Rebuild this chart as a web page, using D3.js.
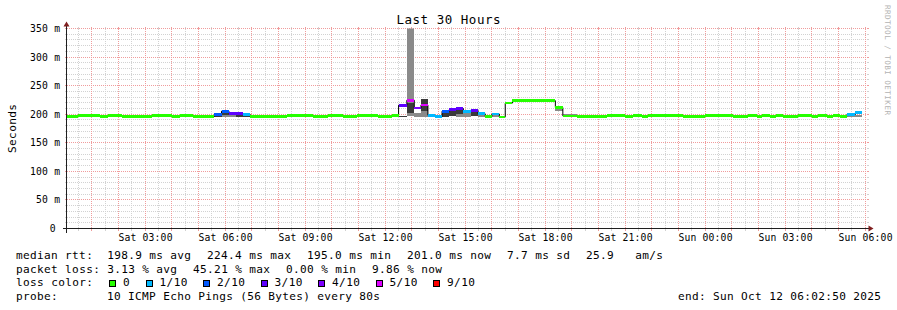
<!DOCTYPE html>
<html><head><meta charset="utf-8"><title>Last 30 Hours</title>
<script src="https://cdn.jsdelivr.net/npm/d3@7/dist/d3.min.js"></script>
<style>
html,body{margin:0;padding:0;background:#fff;}
svg{display:block}
text{font-family:"DejaVu Sans Mono",monospace;white-space:pre;fill:#000}
</style></head><body>
<svg id="chart" width="897" height="310" xmlns="http://www.w3.org/2000/svg"></svg>
<script>
// ---------------- data ----------------
// step start, in hours since Sat 11 Oct 2025 00:00
const segStartHour = [0.05,0.49,1.31,1.61,2.14,3.26,4.01,4.31,4.80,5.59,
  5.86,6.14,6.40,6.66,6.94,8.33,9.30,9.86,10.43,10.95,
  11.74,12.26,12.50,12.81,13.09,13.34,13.60,13.88,14.13,14.40,
  14.66,14.93,15.21,15.48,15.75,16.00,16.28,16.50,16.77,18.38,
  18.66,19.20,20.33,21.00,21.30,21.64,21.86,23.18,24.00,25.05,
  25.61,25.95,26.14,26.44,26.66,26.93,27.49,28.01,28.24,28.58,
  28.80,29.06,29.31,29.63];
const dataEndHour = 29.88;
// median rtt (ms)
const medianMs = [196.3,197.4,196.3,197.4,196.3,197.4,196.3,197.4,196.3,199.5,
  205.3,201.8,201.8,199.5,196.3,197.4,196.3,197.4,196.3,197.4,
  196.3,197.4,215.8,224.5,211.0,216.0,198.3,195.7,205.3,208.0,
  210.0,205.3,207.0,200.7,196.2,200.4,195.3,219.5,223.7,211.7,
  197.0,196.3,197.4,196.3,197.4,196.3,197.4,196.3,197.4,196.3,
  197.4,196.3,197.4,196.3,197.4,196.3,197.4,196.3,197.4,196.3,
  197.4,196.3,199.5,202.5];
// loss class index (0 = 0/10, 1 = 1/10, ... 6 = 9/10)
const lossIndex = [0,0,0,0,0,0,0,0,0,2,
  2,3,3,1,0,0,0,0,0,0,
  0,0,3,5,4,5,1,1,2,3,
  3,1,3,1,0,1,0,0,0,0,
  0,0,0,0,0,0,0,0,0,0,
  0,0,0,0,0,0,0,0,0,0,
  0,0,1,1];
// smoke (ping spread): segment, band (0 outer, 1 inner), low ms, high ms
const smokeSeg  = [9,10,10,11,12,13,22,23,23,24,25,25,26,28,29,30,30,31,32,33,35,39,40,62,63];
const smokeBand = [1,0,1,0,1,1,1,0,1,0,0,1,0,1,1,0,1,0,1,0,0,0,0,0,0];
const smokeLoMs = [195,196,198,196,195.5,195.5,195,197,202,196,196,206,195.5,196,197,196,200,196,197,196,196,206,198,194.5,194.5];
const smokeHiMs = [198.5,204,204,199,199,198.5,197,400,220,203,206,227,197.5,203,206,200,208,203.5,205,199,198.5,210,200,198,198];

const lossLabels = ["0","1/10","2/10","3/10","4/10","5/10","9/10"];
const lossColors = ["#26ff00","#00b8ff","#0059ff","#5e00ff","#7e00ff","#dd00ff","#ff0000"];
const yTickValues = [0,50,100,150,200,250,300,350];
const yTickLabels = ["0","50 m","100 m","150 m","200 m","250 m","300 m","350 m"];
const titleText = "Last 30 Hours";
const yAxisTitle = "Seconds";
const watermark = "RRDTOOL / TOBI OETIKER";
const rttItems  = ["median rtt:  198.9 ms avg","224.4 ms max","195.0 ms min","201.0 ms now","7.7 ms sd","25.9   am/s"];
const lossItems = ["packet loss: 3.13 % avg","45.21 % max","0.00 % min","9.86 % now"];
const lossColorLabel = "loss color:";
const probeText = "probe:       10 ICMP Echo Pings (56 Bytes) every 80s";
const endText = "end: Sun Oct 12 06:02:50 2025";

// ---------------- layout ----------------
const svg = d3.select("#chart");
const X0 = 66.5, X1 = 866.5, Y0 = 228.5, Y1 = 28.5;
const base = Date.UTC(2025, 9, 11, 0, 0, 0);
const toDate = h => new Date(base + h * 3600e3);
const tStart = new Date(Date.UTC(2025, 9, 11, 0, 2, 50));
const tEnd = new Date(Date.UTC(2025, 9, 12, 6, 2, 50));
const x = d3.scaleUtc().domain([tStart, tEnd]).range([X0, X1]);
const y = d3.scaleLinear().domain([0, 350]).range([Y0, Y1]);

const GRID = "#d2d2d2", MGRID = "#f09c9c", AXIS = "#1f1f1f", ARROW = "#801f1f";
const LEG = 11.1, LEGADV = 7, AX = 9.72, AXADV = 6;

function mono(g, str, px, py, size, adv, anchor) {
  return g.append("text").attr("x", px).attr("y", py)
    .attr("font-size", size).attr("text-anchor", anchor || "start")
    .attr("textLength", str.length * adv).attr("lengthAdjust", "spacing")
    .text(str);
}

// grid
const gGrid = svg.append("g").attr("shape-rendering", "crispEdges").attr("fill", "none");
const fy = v => Math.floor(y(v)) + 0.5;
const fx = t => Math.floor(x(t)) + 0.5;
const minorH = d3.range(10, 350, 10).filter(v => v % 50 !== 0);
const majorH = d3.range(50, 351, 50);
const minorV = x.ticks(d3.utcMinute.every(30)).filter(t => t.getUTCMinutes() !== 0);
const majorV = x.ticks(d3.utcHour.every(1));

function hLine(v, col) {
  const py = fy(v);
  gGrid.append("line").attr("x1", X0 - 2).attr("x2", X1 + 2).attr("y1", py).attr("y2", py)
    .attr("stroke", col).attr("stroke-dasharray", "1,1");
  gGrid.append("line").attr("x1", X0 - 2).attr("x2", X0).attr("y1", py).attr("y2", py).attr("stroke", col);
  gGrid.append("line").attr("x1", X1).attr("x2", X1 + 2).attr("y1", py).attr("y2", py).attr("stroke", col);
}
function vLine(t, col) {
  const px = fx(t);
  gGrid.append("line").attr("x1", px).attr("x2", px).attr("y1", Y1 - 2).attr("y2", Y0 + 2)
    .attr("stroke", col).attr("stroke-dasharray", "1,1");
  gGrid.append("line").attr("x1", px).attr("x2", px).attr("y1", Y1 - 2).attr("y2", Y1).attr("stroke", col);
  gGrid.append("line").attr("x1", px).attr("x2", px).attr("y1", Y0).attr("y2", Y0 + 2).attr("stroke", col);
}
minorH.forEach(v => hLine(v, GRID));
minorV.forEach(t => vLine(t, GRID));
majorH.forEach(v => hLine(v, MGRID));
majorV.forEach(t => vLine(t, MGRID));

// data
svg.append("clipPath").attr("id", "plotclip").append("rect")
  .attr("x", X0).attr("y", Y1).attr("width", X1 - X0).attr("height", Y0 - Y1);
const gData = svg.append("g").attr("clip-path", "url(#plotclip)");
const segEnd = i => (i + 1 < segStartHour.length ? segStartHour[i + 1] : dataEndHour);
const smokeColors = ["#8a8a8a", "#3a3a3a"];

gData.append("g").attr("shape-rendering", "crispEdges").selectAll("rect")
  .data(smokeSeg.map((s, k) => ({ s, b: smokeBand[k], lo: smokeLoMs[k], hi: smokeHiMs[k] }))
    .sort((a, b) => a.b - b.b))
  .join("rect")
  .attr("x", d => x(toDate(segStartHour[d.s])))
  .attr("width", d => x(toDate(segEnd(d.s))) - x(toDate(segStartHour[d.s])))
  .attr("y", d => y(d.hi))
  .attr("height", d => y(d.lo) - y(d.hi))
  .attr("fill", d => smokeColors[d.b]);

const linePts = segStartHour.map((h, i) => [x(toDate(h)), y(medianMs[i])]);
linePts.push([x(toDate(dataEndHour)), y(medianMs[medianMs.length - 1])]);
gData.append("path").attr("d", d3.line().curve(d3.curveStepAfter)(linePts))
  .attr("fill", "none").attr("stroke", "#000").attr("stroke-width", 1);

gData.append("g").attr("shape-rendering", "crispEdges").selectAll("rect")
  .data(segStartHour.map((h, i) => i)).join("rect")
  .attr("x", i => x(toDate(segStartHour[i])))
  .attr("width", i => x(toDate(segEnd(i))) - x(toDate(segStartHour[i])))
  .attr("y", i => y(medianMs[i]) - 1.4)
  .attr("height", 2.8)
  .attr("fill", i => lossColors[lossIndex[i]]);

// axes
const gAx = svg.append("g");
gAx.append("line").attr("x1", X0 - 4).attr("x2", X1 + 4).attr("y1", Y0).attr("y2", Y0)
  .attr("stroke", AXIS).attr("shape-rendering", "crispEdges");
gAx.append("line").attr("x1", X0).attr("x2", X0).attr("y1", Y0 + 4).attr("y2", Y1 - 4)
  .attr("stroke", AXIS).attr("shape-rendering", "crispEdges");
gAx.append("path").attr("d", `M${X1 + 2},${Y0 - 3}L${X1 + 2},${Y0 + 3}L${X1 + 7},${Y0}Z`).attr("fill", ARROW);
gAx.append("path").attr("d", `M${X0 - 3},${Y1 - 2}L${X0 + 3},${Y1 - 2}L${X0},${Y1 - 7}Z`).attr("fill", ARROW);

// y labels
yTickValues.forEach((v, i) => {
  const lab = yTickLabels[i];
  const endX = lab === "0" ? 55.6 : 60;
  mono(gAx, lab, endX, fy(v) + 3.6, AX, AXADV, "end");
});
// x labels
const fmt = d3.utcFormat("%a %H:%M");
x.ticks(d3.utcHour.every(3)).forEach(t => {
  mono(gAx, fmt(t), fx(t), 240.7, AX, AXADV, "middle");
});

// title, y-title, watermark
mono(svg, titleText, 448.5, 24, 12.5, 8, "middle");
svg.append("text").attr("transform", "translate(15.5,128.5) rotate(-90)")
  .attr("font-size", LEG).attr("text-anchor", "middle")
  .attr("textLength", yAxisTitle.length * LEGADV).attr("lengthAdjust", "spacing").text(yAxisTitle);
svg.append("text").attr("transform", "translate(884.6,60) rotate(90)")
  .attr("font-size", 7.64).attr("text-anchor", "middle").style("fill", "#b3b3b3")
  .attr("textLength", watermark.length * 5).attr("lengthAdjust", "spacing").text(watermark);

// legend
const gLeg = svg.append("g");
const L0 = 16, GAP = 16;
const rows = [259, 272.7, 286.4, 300.1];
let lx = L0;
rttItems.forEach(s => { mono(gLeg, s, lx, rows[0], LEG, LEGADV); lx += s.length * LEGADV + GAP; });
lx = L0;
lossItems.forEach(s => { mono(gLeg, s, lx, rows[1], LEG, LEGADV); lx += s.length * LEGADV + GAP; });
mono(gLeg, lossColorLabel, L0, rows[2], LEG, LEGADV);
lx = L0 + lossColorLabel.length * LEGADV + GAP;
lossLabels.forEach((s, i) => {
  gLeg.append("rect").attr("x", Math.round(lx) + 0.5).attr("y", 280).attr("width", 6).attr("height", 6)
    .attr("fill", lossColors[i]).attr("stroke", "#000").attr("stroke-width", 1).attr("shape-rendering", "crispEdges");
  mono(gLeg, s, lx + 14, rows[2], LEG, LEGADV);
  lx += 14 + s.length * LEGADV + 15.5;
});
mono(gLeg, probeText, L0, rows[3], LEG, LEGADV);
mono(gLeg, endText, 881, rows[3], LEG, LEGADV, "end");
</script></body></html>
